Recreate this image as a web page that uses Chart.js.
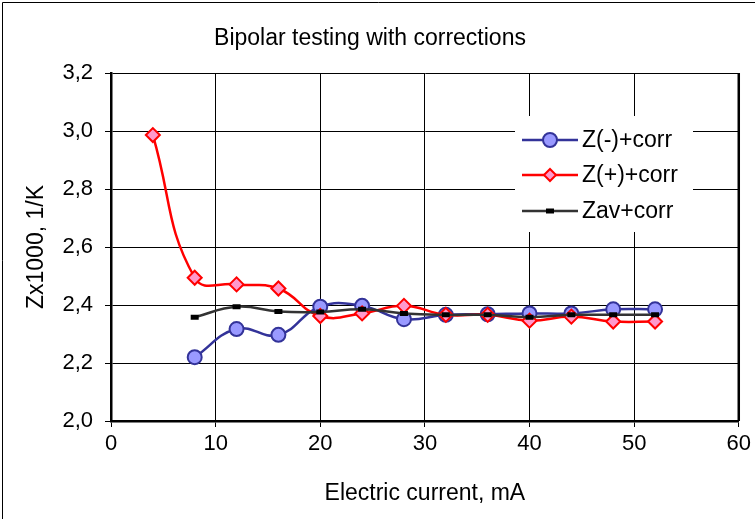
<!DOCTYPE html>
<html>
<head>
<meta charset="utf-8">
<script src="https://cdn.jsdelivr.net/npm/chart.js@4/dist/chart.umd.min.js"></script>
<style>
  body { margin: 0; background: #fff; }
  #wrap { width: 755px; height: 519px; }
</style>
</head>
<body>
<div id="wrap"><canvas id="chartZ" width="755" height="519"></canvas></div>
<script>
// values
const currentPlus = [4, 8, 12, 16, 20, 24, 28, 32, 36, 40, 44, 48, 52];
const current = [8, 12, 16, 20, 24, 28, 32, 36, 40, 44, 48, 52];
const zMinus = [2.220, 2.317, 2.297, 2.394, 2.397, 2.351, 2.366, 2.368, 2.371, 2.371, 2.385, 2.385];
const zPlus = [2.986, 2.494, 2.471, 2.457, 2.362, 2.371, 2.397, 2.366, 2.366, 2.346, 2.360, 2.343, 2.343];
const zAv = [2.358, 2.394, 2.378, 2.376, 2.385, 2.371, 2.366, 2.366, 2.358, 2.366, 2.366, 2.366];
const xTicks = [0, 10, 20, 30, 40, 50, 60];
const yTicks = [2.0, 2.2, 2.4, 2.6, 2.8, 3.0, 3.2];

const FONT = 'Liberation Sans, Arial, sans-serif';

function pts(xs, ys) {
    return xs.map((x, i) => ({ x: x, y: ys[i] }));
}

// frame, right border of the plot and legend box inside the plot
const decor = {
    id: 'decor',
    beforeDraw(chart) {
        const c = chart.ctx;
        c.save();
        c.fillStyle = '#fff';
        c.fillRect(0, 0, chart.width, chart.height);
        c.strokeStyle = '#000';
        c.lineWidth = 1;
        c.beginPath();
        c.moveTo(2.5, chart.height);
        c.lineTo(2.5, 2.5);
        c.lineTo(chart.width, 2.5);
        c.stroke();
        c.restore();
    },
    beforeDatasetsDraw(chart) {
        const a = chart.chartArea;
        const c = chart.ctx;
        c.save();
        c.strokeStyle = '#000';
        c.lineWidth = 2.5;
        c.beginPath();
        c.moveTo(a.right, a.top);
        c.lineTo(a.right, a.bottom);
        c.stroke();
        c.restore();
    },
    afterDraw(chart) {
        const c = chart.ctx;
        c.save();
        c.fillStyle = '#fff';
        c.fillRect(515, 116, 178, 116);
        const ys = [140, 175, 211];
        c.font = '23px ' + FONT;
        c.textBaseline = 'middle';
        c.textAlign = 'left';
        chart.data.datasets.forEach((ds, i) => {
            c.strokeStyle = ds.borderColor;
            c.lineWidth = ds.borderWidth;
            c.beginPath();
            c.moveTo(522, ys[i]);
            c.lineTo(578, ys[i]);
            c.stroke();
            c.fillStyle = ds.pointBackgroundColor;
            c.strokeStyle = ds.pointBorderColor;
            c.lineWidth = ds.pointBorderWidth;
            Chart.helpers.drawPoint(c, {
                pointStyle: ds.pointStyle,
                radius: ds.legendRadius,
                borderWidth: ds.pointBorderWidth,
                rotation: 0
            }, 550, ys[i]);
            c.fillStyle = '#000';
            c.fillText(ds.label, 582, ys[i] + 1);
        });
        c.restore();
    }
};

new Chart(document.getElementById('chartZ'), {
    type: 'line',
    data: {
        datasets: [{
            label: 'Z(-)+corr',
            data: pts(current, zMinus),
            borderColor: '#333399',
            borderWidth: 2.5,
            pointStyle: 'circle',
            pointRadius: 7,
            legendRadius: 7,
            pointBackgroundColor: '#9999FF',
            pointBorderColor: '#333399',
            pointBorderWidth: 2,
            tension: 0.45,
            order: 3
        }, {
            label: 'Z(+)+corr',
            data: pts(currentPlus, zPlus),
            borderColor: '#FF0000',
            borderWidth: 2.5,
            pointStyle: 'rectRot',
            pointRadius: 7,
            legendRadius: 6,
            pointBackgroundColor: '#FF99CC',
            pointBorderColor: '#FF0000',
            pointBorderWidth: 2,
            tension: 0.45,
            order: 2
        }, {
            label: 'Zav+corr',
            data: pts(current, zAv),
            borderColor: '#333333',
            borderWidth: 2.5,
            pointStyle: 'line',
            pointRadius: 4,
            legendRadius: 4,
            pointBackgroundColor: '#000',
            pointBorderColor: '#000',
            pointBorderWidth: 5,
            tension: 0.45,
            order: 1
        }]
    },
    options: {
        responsive: false,
        animation: false,
        layout: { padding: { left: 0, right: 15, top: 0, bottom: 0 } },
        plugins: {
            legend: { display: false },
            tooltip: { enabled: false },
            title: {
                display: true,
                text: 'Bipolar testing with corrections',
                color: '#000',
                font: { family: FONT, size: 23, weight: 'normal' },
                padding: { top: 25, bottom: 20.4 }
            }
        },
        scales: {
            x: {
                type: 'linear',
                min: 0,
                max: 60,
                afterFit: s => { s.height = 98; },
                afterBuildTicks: s => { s.ticks = xTicks.map(v => ({ value: v })); },
                grid: { color: '#000', lineWidth: 1, tickLength: 6, drawTicks: true },
                border: { display: true, color: '#000', width: 2.5 },
                ticks: {
                    color: '#000',
                    padding: 4,
                    maxRotation: 0,
                    font: { family: FONT, size: 22 }
                },
                title: {
                    display: true,
                    text: 'Electric current, mA',
                    color: '#000',
                    font: { family: FONT, size: 23 },
                    padding: { top: 0, bottom: 12 }
                }
            },
            y: {
                min: 2.0,
                max: 3.2,
                afterFit: s => { s.width = 111; },
                afterBuildTicks: s => { s.ticks = yTicks.map(v => ({ value: v })); },
                grid: { color: '#000', lineWidth: 1, tickLength: 6 },
                border: { display: true, color: '#000', width: 2.5 },
                ticks: {
                    color: '#000',
                    padding: 12,
                    font: { family: FONT, size: 22 },
                    callback: v => v.toFixed(1).replace('.', ',')
                },
                title: {
                    display: true,
                    text: 'Zx1000, 1/K',
                    color: '#000',
                    font: { family: FONT, size: 23 },
                    padding: { top: 23, bottom: 0 }
                }
            }
        }
    },
    plugins: [decor]
});
</script>
</body>
</html>
